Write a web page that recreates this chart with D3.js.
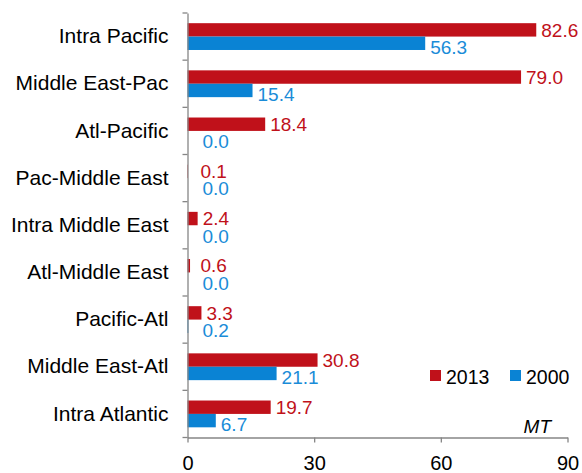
<!DOCTYPE html>
<html>
<head>
<meta charset="utf-8">
<script src="https://cdn.jsdelivr.net/npm/d3@7"></script>
<style>
html,body{margin:0;padding:0;background:#fff;}
svg{display:block;}
text{font-family:"Liberation Sans",Arial,sans-serif;}
</style>
</head>
<body>
<svg id="chart" width="582" height="473"></svg>
<script>
const categories = ["Intra Pacific","Middle East-Pac","Atl-Pacific","Pac-Middle East","Intra Middle East","Atl-Middle East","Pacific-Atl","Middle East-Atl","Intra Atlantic"];
const values2013 = [82.6,79.0,18.4,0.1,2.4,0.6,3.3,30.8,19.7];
const values2000 = [56.3,15.4,0.0,0.0,0.0,0.0,0.2,21.1,6.7];
const seriesNames = ["2013","2000"];
const xTicks = [0,30,60,90];
const unitLabel = "MT";

const colors = {"2013":"#C0111A","2000":"#0A83D4"};
const labelColors = {"2013":"#C0111A","2000":"#1A8CD8"};
const axisColor = "#868686";

const svg = d3.select("#chart");
const x0 = 187.5, x1 = 567.5, yTop = 13, yBot = 437.5;

const x = d3.scaleLinear().domain([0,90]).range([x0,x1]);
const y = d3.scaleBand().domain(categories).range([yTop,yBot]).padding(0);
const ySub = d3.scaleBand().domain(seriesNames).range([0,y.bandwidth()]).paddingInner(0).paddingOuter(0.76);

const rows = categories.map((c,i)=>({cat:c, vals:[{s:"2013",v:values2013[i]},{s:"2000",v:values2000[i]}]}));

const g = svg.append("g");
const groups = g.selectAll("g.row").data(rows).join("g")
  .attr("transform", d=>`translate(0,${y(d.cat)})`);

groups.selectAll("rect").data(d=>d.vals).join("rect")
  .attr("x", x(0))
  .attr("y", d=>ySub(d.s))
  .attr("width", d=>Math.max(0, x(d.v)-x(0)))
  .attr("height", ySub.bandwidth())
  .attr("fill", d=>colors[d.s]);

groups.selectAll("text").data(d=>d.vals).join("text")
  .attr("x", d=>Math.max(x(d.v)+5, x(0)+(d.s==="2000"?15:13)))
  .attr("y", d=>ySub(d.s)+ySub.bandwidth()/2 + (d.s==="2000"?4:0))
  .attr("dy","0.35em")
  .attr("font-size","19px")
  .attr("fill", d=>labelColors[d.s])
  .text(d=>d.v.toFixed(1));

// Y axis (labels)
const yAxis = svg.append("g").attr("transform",`translate(${x0},0)`)
  .call(d3.axisLeft(y).tickSize(0).tickPadding(19));
yAxis.select(".domain").attr("stroke",axisColor).attr("stroke-width",1.3);
yAxis.selectAll(".tick text").attr("font-size","21px").attr("fill","#000")
  .attr("font-family","Liberation Sans, Arial, sans-serif");

// Y boundary ticks
const bounds = d3.range(categories.length+1).map(i=>y.range()[0]+i*y.step());
svg.append("g").selectAll("line").data(bounds).join("line")
  .attr("x1",x0-5).attr("x2",x0).attr("y1",d=>d).attr("y2",d=>d)
  .attr("stroke",axisColor).attr("stroke-width",1.3);

// X axis
const xAxis = svg.append("g").attr("transform",`translate(0,${yBot})`)
  .call(d3.axisBottom(x).tickValues(xTicks).tickSize(5).tickSizeOuter(0).tickPadding(13.5).tickFormat(d3.format("d")));
xAxis.select(".domain").attr("stroke",axisColor).attr("stroke-width",1.3);
xAxis.selectAll(".tick line").attr("stroke",axisColor).attr("stroke-width",1.3);
xAxis.selectAll(".tick text").attr("font-size","20px").attr("fill","#000")
  .attr("font-family","Liberation Sans, Arial, sans-serif");

// Legend
const legendX = [430, 510];
const leg = svg.append("g").selectAll("g").data(seriesNames).join("g")
  .attr("transform",(d,i)=>`translate(${legendX[i]},370)`);
leg.append("rect").attr("width",11).attr("height",11).attr("fill",d=>colors[d]);
leg.append("text").attr("x",16).attr("y",14).attr("font-size","19.5px").attr("fill","#000").text(d=>d);

// Unit label
svg.append("text").attr("x",551).attr("y",433).attr("text-anchor","end")
  .attr("font-size","19px").attr("font-style","italic").attr("fill","#000").text(unitLabel);
</script>
</body>
</html>
